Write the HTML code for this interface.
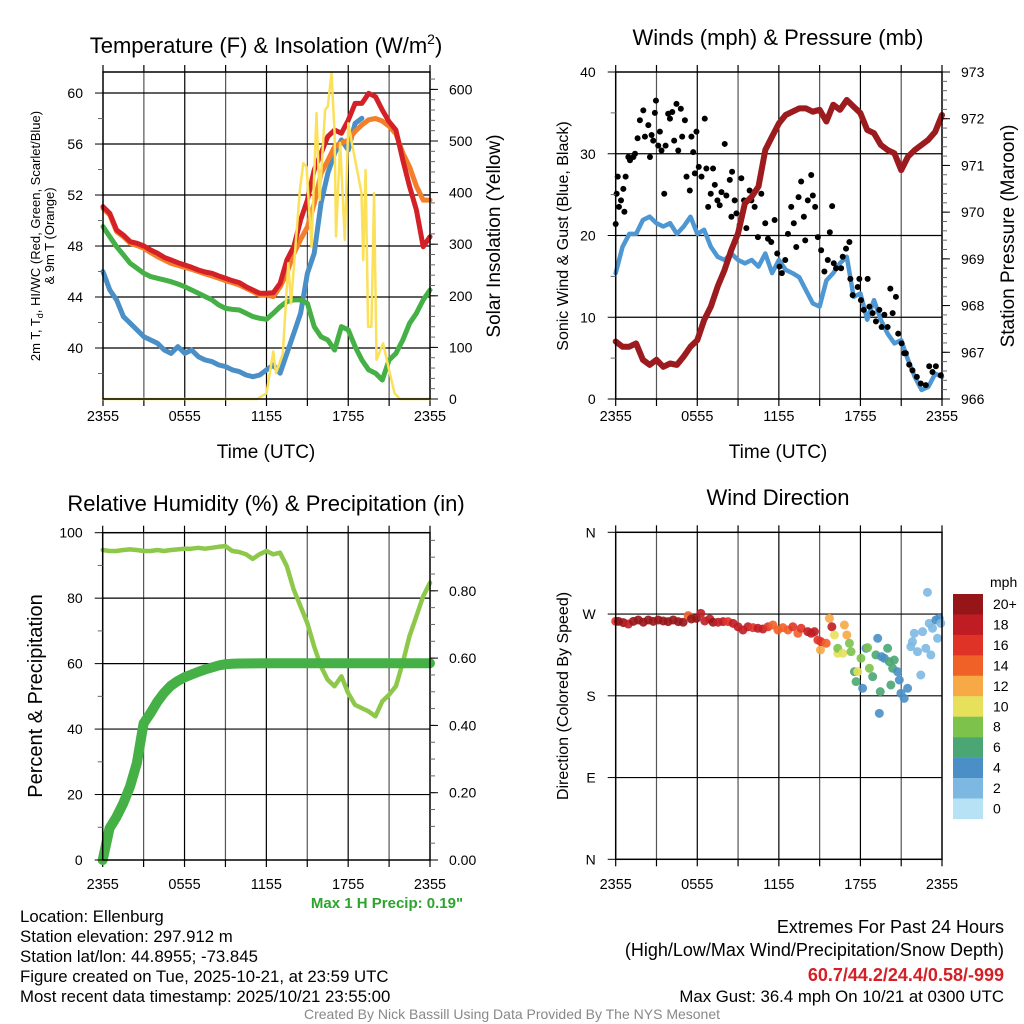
<!DOCTYPE html>
<html><head><meta charset="utf-8"><style>
body{margin:0;background:#fff;}
svg{display:block;font-family:"Liberation Sans",sans-serif;}
</style></head><body>
<svg id="s" width="1024" height="1024" viewBox="0 0 1024 1024"></svg>
<script>
// ---------- DATA ----------
const tHalf = [0,0.5,1,1.5,2,2.5,3,3.5,4,4.5,5,5.5,6,6.5,7,7.5,8,8.5,9,9.5,10,10.5,11,11.5,12,12.5,13,13.5,14,14.5,15,15.5,16,16.5,17,17.5,18,18.5,19,19.5,20,20.5,21,21.5,22,22.5,23,23.5,24];
const temp2m = [51.09,50.56,49.26,48.86,48.34,48.21,48.0,47.69,47.43,47.11,46.9,46.69,46.51,46.33,46.12,45.96,45.86,45.65,45.47,45.28,45.13,44.81,44.55,44.29,44.29,44.34,45.07,46.9,47.95,50.04,51.61,53.96,55.27,56.58,57.1,56.84,57.88,59.19,59.19,59.98,59.71,58.67,57.75,57.1,54.75,52.66,50.83,47.95,48.73];
const temp9m = [50.96,50.43,49.13,48.73,48.21,48.03,47.82,47.48,47.17,46.9,46.64,46.49,46.33,46.17,45.99,45.81,45.65,45.47,45.28,45.13,44.94,44.68,44.42,44.16,44.16,44.03,44.8,45.9,47.4,48.5,49.5,51.3,53.7,54.7,55.8,56.1,56.3,57.0,57.5,57.9,58.0,57.8,57.4,56.8,55.3,54.2,52.7,51.6,51.6];
const dewpt = [49.52,48.73,47.95,47.3,46.64,46.25,45.86,45.6,45.47,45.34,45.2,45.02,44.81,44.55,44.29,44.03,43.77,43.37,43.11,43.03,42.98,42.72,42.46,42.33,42.25,42.72,43.24,43.64,43.77,43.77,43.51,41.68,40.89,40.63,39.84,41.68,41.41,40.11,39.06,38.28,38.02,37.49,39.06,39.58,40.63,41.94,42.72,43.77,44.55];
const windChill = [45.99,44.55,43.77,42.46,41.94,41.41,40.89,40.63,40.37,39.84,39.58,40.11,39.58,39.84,39.32,39.06,38.93,38.67,38.54,38.28,38.15,37.88,37.75,37.88,38.28,38.67,38.02,39.58,41.15,42.72,45.86,47.43,51.35,53.7,55.27,56.32,55.53,57.62,58.02];
const solarT = [0,11.3,12,12.5,12.7,13.2,13.6,13.8,14.45,14.7,14.94,15.3,15.67,15.9,16.3,16.5,16.77,17,17.1,17.4,17.75,18,18.36,18.97,19.1,19.27,19.46,19.7,19.9,20.07,20.56,21.05,21.4,21.8,24];
const solarW = [0,0,11,92,50,88,263,185,405,457,450,295,554,386,560,567,631,515,315,496,308,534,483,399,269,444,140,140,399,76,108,50,11,0,0];
const sonicWind = [15.4,18.6,20.2,20.2,21.9,22.3,21.5,21.1,21.5,20.2,21.1,22.3,20.2,20.7,18.6,17.4,17.0,17.8,17.0,16.6,17.0,16.2,17.8,15.4,17.0,15.8,15.4,14.9,13.3,11.7,11.3,14.5,15.4,16.6,17.4,12.5,12.9,9.7,12.1,9.7,8.0,6.8,7.2,4.8,2.7,1.1,1.5,3.1,2.7];
const pressure = [967.23,967.12,967.12,967.19,966.84,966.73,966.84,966.69,966.76,966.73,966.91,967.12,967.26,967.69,967.98,968.41,968.76,969.19,969.55,970.19,970.33,970.55,971.33,971.62,971.9,972.08,972.15,972.22,972.22,972.15,972.19,971.94,972.3,972.19,972.4,972.26,972.12,971.76,971.69,971.44,971.33,971.26,970.9,971.19,971.33,971.44,971.55,971.72,972.08];
const gustT = [0,0.07,0.15,0.24,0.39,0.56,0.64,0.73,0.93,1.05,1.3,1.42,1.61,1.78,2.03,2.15,2.4,2.52,2.64,2.76,2.88,2.96,3.13,3.25,3.37,3.57,3.67,3.86,3.99,4.16,4.3,4.47,4.6,4.79,4.89,5.09,5.21,5.45,5.57,5.7,5.82,5.94,6.11,6.31,6.55,6.67,6.8,6.99,7.16,7.29,7.48,7.65,7.78,8.02,8.14,8.39,8.51,8.56,8.75,8.88,9.12,9.24,9.44,9.61,9.85,9.98,10.22,10.46,10.71,11.0,11.2,11.44,11.69,11.88,12.05,12.22,12.47,12.67,12.91,13.1,13.28,13.45,13.64,13.84,13.94,14.13,14.38,14.5,14.67,14.87,15.11,15.35,15.6,15.75,15.92,16.04,16.21,16.58,16.7,16.94,17.19,17.26,17.43,17.8,17.92,18.04,18.24,18.53,18.66,18.9,19.14,19.39,19.56,19.76,20.0,20.2,20.37,20.61,20.78,21.03,21.22,21.34,21.59,21.83,22.15,22.44,22.81,23.06,23.3,23.55,23.91];
const gustV = [21.4,25.1,27.2,23.5,24.3,25.7,22.9,27.2,29.6,29.2,29.6,30.0,31.9,34.1,35.3,32.1,33.5,29.6,32.3,31.6,35.0,36.5,31.0,32.7,30.4,25.1,31.0,34.9,34.3,35.1,31.6,36.1,30.4,35.5,32.1,34.1,27.2,25.5,32.1,30.2,27.6,32.7,28.4,27.2,34.3,28.2,23.5,25.1,28.2,26.2,24.3,23.7,25.3,31.2,24.9,26.8,22.3,27.8,24.3,22.7,21.3,27.0,24.3,20.9,25.5,24.3,23.5,19.8,25.1,21.5,19.6,19.2,21.9,17.8,16.2,15.4,17.0,20.2,23.5,21.5,18.6,24.7,26.6,22.3,19.4,24.3,27.4,24.9,23.5,19.8,18.2,15.6,17.0,20.4,23.6,16.6,16.0,16.0,17.4,18.4,19.2,14.7,12.7,13.7,14.7,12.1,10.9,14.7,11.3,10.5,9.5,10.9,8.8,10.3,8.8,13.5,10.5,12.5,8.0,6.8,5.6,5.6,4.2,3.5,2.7,1.9,1.7,4.0,3.3,4.0,2.9];
const rh = [94.7,94.4,94.4,94.7,94.9,94.7,94.4,94.4,94.7,94.4,94.7,94.9,95.1,95.1,95.4,95.1,95.4,95.7,95.9,94.4,94.1,93.4,92.0,93.4,94.4,93.4,93.9,89.8,82.7,77.6,72.4,65.3,59.2,55.1,53.1,56.1,51.0,47.4,46.4,45.4,43.9,48.5,50.5,53.1,60.2,68.4,74.5,80.6,84.7];
const precipT = [0,0.5,1,1.5,2,2.5,3,3.5,4,4.5,5,5.5,6,6.5,7,7.5,8,8.5,9,9.5,10,12,16,20,24];
const precipIn = [0,0.094,0.127,0.168,0.218,0.287,0.406,0.436,0.47,0.497,0.518,0.532,0.543,0.551,0.559,0.566,0.572,0.578,0.582,0.583,0.584,0.585,0.585,0.585,0.585];
const dirT = [0,0.2,0.56,0.93,1.3,1.66,2.03,2.4,2.76,3.13,3.5,3.86,4.23,4.6,4.96,5.33,5.57,5.94,6.26,6.55,6.92,7.16,7.53,7.9,8.26,8.63,9.0,9.36,9.73,10.1,10.46,10.83,11.2,11.56,11.93,12.3,12.67,13.03,13.4,13.64,14.13,14.38,14.62,14.87,15.06,15.1,15.48,15.72,15.9,16.09,16.33,16.33,16.7,16.82,17.0,17.19,17.31,17.56,17.68,17.8,18.04,18.16,18.41,18.53,18.66,18.9,19.14,19.27,19.39,19.46,19.56,19.76,20.0,20.12,20.24,20.37,20.49,20.73,20.86,20.98,21.22,21.47,21.71,21.83,21.96,22.2,22.44,22.57,22.81,22.93,23.06,23.18,23.3,23.55,23.67,23.79,23.91];
const dirDeg = [262,262,260.6,259,262,263.5,261,263.5,262,263.5,262.4,261.7,263.5,261.7,261,268.3,264.6,265.3,270.8,262.4,264.6,261,261,261.7,261.7,259.8,256,252.5,256,255,254.3,253.6,256,258,252.5,255,252.5,256,248.8,254.3,250.6,248.8,250.6,241.5,230.5,239.6,237.8,265.3,256,247,226.8,232.3,226.8,258,247,237.8,228.6,206.6,195.6,206.6,221.3,188.3,232.3,233,210.3,201.1,225,243.3,160.7,184.6,223.1,221.3,232.3,217.6,191.9,210.3,219.4,206.6,197.4,182.7,177.2,188.3,234.1,239.6,248.8,228.6,202.9,250.6,232.3,293.9,259.8,225,254.3,263.5,243.3,265.3,259.8];
const dirSpd = [16,19,21,18,21,22,21,22,21,22,22,21,21,20,21,14,19,20,18,17,18,21,17,17,16,17,17,18,17,16,17,17,15,14,13,13,13,16,14,16,17,17,18,15,12,15,13,12,17,10,9,8,10,12,12,8,8,6,6,10,8,4,4,8,8,6,6,4,4,6,4,4,6,6,6,6,6,4,4,4,3,4,2,2,2,2,1,1,1,1,2,2,2,3,2,3,2];
const speedLabels = ["20+","18","16","14","12","10","8","6","4","2","0"];
const speedColors = ["#961519","#c01c23","#e03328","#f06128","#f7a945","#e6e05a","#7cc24b","#4aa672","#4a8fc6","#7db8e3","#b7e2f6"];
const xTickLabels = ["2355","0555","1155","1755","2355"];

// ---------- HELPERS ----------
const NS="http://www.w3.org/2000/svg";
const svg=document.getElementById('s');
function mk(tag,attrs,parent){const e=document.createElementNS(NS,tag);for(const k in attrs)e.setAttribute(k,attrs[k]);(parent||svg).appendChild(e);return e;}
function txt(x,y,s,size,opts,parent){opts=opts||{};const e=mk('text',{x:x,y:y,'font-size':size,'text-anchor':opts.anchor||'middle',fill:opts.fill||'#000','font-weight':opts.weight||'normal'},parent);if(opts.rot)e.setAttribute('transform','rotate(-90 '+x+' '+y+')');e.textContent=s;return e;}
function makePanel(L,R,T,B){
  return {L,R,T,B,x:h=>L+(h/24)*(R-L),
    yl:(v,a,b)=>B-(v-a)/(b-a)*(B-T)};
}
function grid(p,g,hy){
  for(let i=1;i<8;i++){const x=p.x(i*3);mk('line',{x1:x,y1:p.T,x2:x,y2:p.B,stroke:i%2?'#555':'#000','stroke-width':1.2},g);}
  for(let i=0;i<=8;i++){const x=p.x(i*3);mk('line',{x1:x,y1:p.B,x2:x,y2:p.B+7,stroke:'#000','stroke-width':1.2},g);mk('line',{x1:x,y1:p.T,x2:x,y2:p.T-7,stroke:'#000','stroke-width':1.2},g);}
  hy.forEach(y=>{mk('line',{x1:p.L,y1:y,x2:p.R,y2:y,stroke:'#000','stroke-width':1.2},g);});
}
function frame(p,g){mk('rect',{x:p.L,y:p.T,width:p.R-p.L,height:p.B-p.T,fill:'none',stroke:'#000','stroke-width':1.5},g);}
function xLabels(p,y,g){xTickLabels.forEach((s,i)=>{const t=txt(p.x(i*6),y,s,14.5,{},g);});}
function path(g,pts,color,w,name){const d=pts.map((q,i)=>(i?'L':'M')+q[0].toFixed(1)+' '+q[1].toFixed(1)).join(' ');const e=mk('path',{d:d,fill:'none',stroke:color,'stroke-width':w,'stroke-linejoin':'round','stroke-linecap':'round'},g);return e;}
function ticksL(p,g,vals,yf,labels,minor){(minor||[]).forEach(v=>{const y=yf(v);mk('line',{x1:p.L,y1:y,x2:p.L-5,y2:y,stroke:'#666'},g);});vals.forEach((v,i)=>{const y=yf(v);mk('line',{x1:p.L,y1:y,x2:p.L-8,y2:y,stroke:'#000'},g);const t=txt(p.L-20,y+5,labels[i],14,{anchor:'end'},g);});}
function ticksR(p,g,vals,yf,labels,minor){minor.forEach(v=>{const y=yf(v);mk('line',{x1:p.R,y1:y,x2:p.R+5,y2:y,stroke:'#666'},g);});vals.forEach((v,i)=>{const y=yf(v);mk('line',{x1:p.R,y1:y,x2:p.R+8,y2:y,stroke:'#000'},g);const t=txt(p.R+19,y+5,labels[i],14,{anchor:'start'},g);});}
function range(a,b,s){const r=[];for(let v=a;v<=b+1e-9;v+=s)r.push(+v.toFixed(4));return r;}

// ---------- PANEL 1 ----------
{
const g=mk('g',{});
const p=makePanel(103,430,72,399);
const yT=v=>p.yl(v,36,61.65), yS=v=>p.yl(v,0,633.7);
grid(p,g,[40,44,48,52,56,60].map(yT));
path(g,tHalf.slice(0,windChill.length).map((h,i)=>[p.x(h),yT(windChill[i])]),'#4a8fc6',5,'wind-chill-line');
path(g,tHalf.map((h,i)=>[p.x(h),yT(dewpt[i])]),'#45b045',5,'dewpoint-line');
path(g,tHalf.map((h,i)=>[p.x(h),yT(temp9m[i])]),'#f47f2a',5,'temp-9m-line');
path(g,tHalf.map((h,i)=>[p.x(h),yT(temp2m[i])]),'#d42027',5,'temp-2m-line');
path(g,solarT.map((h,i)=>[p.x(h),yS(solarW[i])]),'#fbe05a',2.5,'solar-line');
frame(p,g);
ticksL(p,g,[40,44,48,52,56,60],yT,['40','44','48','52','56','60'],[38,42,46,50,54,58]);
ticksR(p,g,[0,100,200,300,400,500,600],yS,['0','100','200','300','400','500','600'],range(0,620,20));
xLabels(p,421,g);
let t=mk('text',{x:266,y:53,'font-size':22,'text-anchor':'middle'},g);t.innerHTML='Temperature (F) &amp; Insolation (W/m<tspan dy="-9" font-size="14">2</tspan><tspan dy="9">)</tspan>';

t=mk('text',{x:40,y:236,'font-size':13,'text-anchor':'middle',transform:'rotate(-90 40 236)'},g);t.innerHTML='2m T, T<tspan dy="3" font-size="9">d</tspan><tspan dy="-3">, HI/WC (Red, Green, Scarlet/Blue)</tspan>';

t=txt(54,236,'& 9m T (Orange)',13,{rot:1},g);
t=txt(500,236,'Solar Insolation (Yellow)',19,{rot:1},g);
t=txt(266,458,'Time (UTC)',19,{},g);
}
// ---------- PANEL 2 ----------
{
const g=mk('g',{});
const p=makePanel(615.7,942,72,399);
const yW=v=>p.yl(v,0,40), yP=v=>p.yl(v,966,973);
grid(p,g,[10,20,30].map(yW));
path(g,tHalf.map((h,i)=>[p.x(h),yW(sonicWind[i])]),'#4f97d3',4.5,'sonic-wind-line');
gustT.forEach((h,i)=>{const c=mk('circle',{cx:p.x(h),cy:yW(gustV[i]),r:3,fill:'#000'},g);});
path(g,tHalf.map((h,i)=>[p.x(h),yP(pressure[i])]),'#9b1b1e',6,'pressure-line');
frame(p,g);
ticksL(p,g,[0,10,20,30,40],yW,['0','10','20','30','40'],[5,15,25,35]);
ticksR(p,g,range(966,973,1),yP,['966','967','968','969','970','971','972','973'],range(966,973,0.2));
xLabels(p,421,g);
let t=txt(778,45,'Winds (mph) & Pressure (mb)',22,{},g);
t=txt(568,236,'Sonic Wind & Gust (Blue, Black)',16,{rot:1},g);
t=txt(1014,236,'Station Pressure (Maroon)',19,{rot:1},g);
t=txt(778,458,'Time (UTC)',19,{},g);
}
// ---------- PANEL 3 ----------
{
const g=mk('g',{});
const p=makePanel(102.7,430,532.7,860);
const yR=v=>p.yl(v,0,100), yPr=v=>p.yl(v,0,0.9727);
grid(p,g,[20,40,60,80].map(yR));
path(g,tHalf.map((h,i)=>[p.x(h),yR(rh[i])]),'#8dc84a',4.5,'rh-line');
path(g,precipT.map((h,i)=>[p.x(h),yPr(precipIn[i])]),'#45b045',10,'precip-line');
frame(p,g);
ticksL(p,g,[0,20,40,60,80,100],yR,['0','20','40','60','80','100'],[10,30,50,70,90]);
ticksR(p,g,[0,0.2,0.4,0.6,0.8],yPr,['0.00','0.20','0.40','0.60','0.80'],range(0,0.95,0.05));
xLabels(p,889,g);
let t=txt(266,511,'Relative Humidity (%) & Precipitation (in)',22,{},g);
t=txt(42,696,'Percent & Precipitation',20,{rot:1},g);
t=txt(387,908,'Max 1 H Precip: 0.19"',15,{fill:'#2ea32e',weight:'bold'},g);
}
// ---------- PANEL 4 ----------
{
const g=mk('g',{});
const p=makePanel(615.7,942,532.3,859.3);
const yD=v=>p.yl(v,0,360);
grid(p,g,[90,180,270].map(yD));
dirT.forEach((h,i)=>{const b=Math.min(10,Math.round(dirSpd[i]/2));const c=mk('circle',{cx:p.x(h),cy:yD(dirDeg[i]),r:4.5,fill:speedColors[10-b],'fill-opacity':0.9},g);});
frame(p,g);
ticksL(p,g,[0,90,180,270,360],yD,['N','E','S','W','N']);
xLabels(p,889,g);
let t=txt(778,505,'Wind Direction',22,{},g);
t=txt(568,696,'Direction (Colored By Speed)',16,{rot:1},g);
const cb=mk('g',{},g);
speedColors.forEach((c,i)=>{const r=mk('rect',{x:953,y:594+i*20.45,width:30,height:20.6,fill:c},cb);
 const l=txt(993,594+i*20.45+15,speedLabels[i],14,{anchor:'start'},cb);});
t=txt(990,587,'mph',14,{anchor:'start'},cb);
}
// ---------- FOOTER TEXT ----------
{
const g=mk('g',{});
const lines=['Location: Ellenburg','Station elevation: 297.912 m','Station lat/lon: 44.8955; -73.845','Figure created on Tue, 2025-10-21, at 23:59 UTC','Most recent data timestamp: 2025/10/21 23:55:00'];
const ys=[922,942,962,982,1002];
lines.forEach((s,i)=>{const t=txt(20,ys[i],s,16.8,{anchor:'start'},g);});
const g2=mk('g',{});
let t=txt(1004,933,'Extremes For Past 24 Hours',18,{anchor:'end'},g2);
t=txt(1004,956,'(High/Low/Max Wind/Precipitation/Snow Depth)',18,{anchor:'end'},g2);
t=txt(1004,981,'60.7/44.2/24.4/0.58/-999',18,{anchor:'end',fill:'#d42027',weight:'bold'},g2);
t=txt(1004,1002,'Max Gust: 36.4 mph On 10/21 at 0300 UTC',16.8,{anchor:'end'},g2);
t=txt(512,1019,'Created By Nick Bassill Using Data Provided By The NYS Mesonet',14,{fill:'#888'});
}
</script>
</body></html>
